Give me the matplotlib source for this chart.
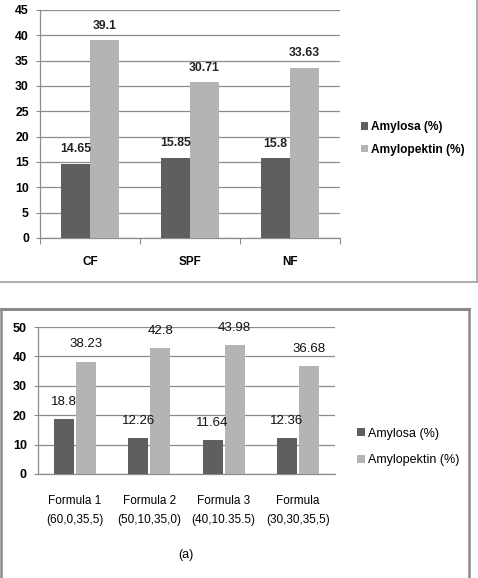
import matplotlib
matplotlib.use("Agg")
import matplotlib.pyplot as plt
from matplotlib.lines import Line2D
import numpy as np

plt.rcParams['font.family'] = ['Liberation Sans', 'DejaVu Sans']

# ---- data ----
top_categories = ["CF", "SPF", "NF"]
top_amylosa = [14.65, 15.85, 15.8]
top_amylopektin = [39.1, 30.71, 33.63]
top_yticks = [0, 5, 10, 15, 20, 25, 30, 35, 40, 45]

bot_categories = ["Formula 1\n(60,0,35,5)", "Formula 2\n(50,10,35,0)",
                  "Formula 3\n(40,10.35.5)", "Formula\n(30,30,35,5)"]
bot_amylosa = [18.8, 12.26, 11.64, 12.36]
bot_amylopektin = [38.23, 42.8, 43.98, 36.68]
bot_yticks = [0, 10, 20, 30, 40, 50]

series_names = ["Amylosa (%)", "Amylopektin (%)"]
dark = "#5f5f5f"
light = "#b4b4b4"
grid_c = "#8c8c8c"

W, H = 478, 578
fig = plt.figure(figsize=(W / 100, H / 100), dpi=100)

def fx(px):
    return px / W

def fy(py):
    return 1 - py / H

# ---------------- top chart ----------------
ax1 = fig.add_axes([fx(40), fy(238), fx(340) - fx(40), fy(10) - fy(238)])
x = np.arange(len(top_categories))
bw = 0.29
ax1.bar(x - bw / 2, top_amylosa, bw, color=dark, label=series_names[0], zorder=3)
ax1.bar(x + bw / 2, top_amylopektin, bw, color=light, label=series_names[1], zorder=3)
for xi, v in zip(x - bw / 2, top_amylosa):
    ax1.annotate(f"{v:g}", (xi, v), xytext=(0, 6), textcoords="offset points",
                 ha="center", va="bottom", fontsize=8.8, fontweight="bold", color="#222222")
for xi, v in zip(x + bw / 2, top_amylopektin):
    ax1.annotate(f"{v:g}", (xi, v), xytext=(0, 6), textcoords="offset points",
                 ha="center", va="bottom", fontsize=8.8, fontweight="bold", color="#222222")
ax1.set_xlim(-0.5, len(top_categories) - 0.5)
ax1.set_ylim(0, 45)
ax1.set_yticks(top_yticks)
ax1.yaxis.grid(True, color=grid_c, lw=0.9, zorder=0)
ax1.set_axisbelow(True)
ax1.set_xticks(x)
ax1.set_xticklabels(top_categories, fontsize=8.5, fontweight="bold")
ax1.set_xticks(np.arange(-0.5, len(top_categories)), minor=True)
ax1.tick_params(axis="x", which="major", length=0, pad=13)
ax1.tick_params(axis="x", which="minor", length=4, color=grid_c, width=0.8)
ax1.tick_params(axis="y", length=3, color=grid_c, width=0.8, pad=5)
for lab in ax1.get_yticklabels():
    lab.set_fontsize(8.8)
    lab.set_fontweight("bold")
for s in ["top", "right"]:
    ax1.spines[s].set_visible(False)
ax1.spines["left"].set_color(grid_c)
ax1.spines["left"].set_linewidth(0.9)
ax1.spines["bottom"].set_color(grid_c)
ax1.spines["bottom"].set_linewidth(0.9)
ax1.legend(loc="center left", bbox_to_anchor=(fx(355), fy(138.5)),
           bbox_transform=fig.transFigure, frameon=False,
           handlelength=0.6, handleheight=0.6, handletextpad=0.25,
           labelspacing=0.85, borderpad=0, prop={"size": 8.6, "weight": "bold"})

# ---------------- bottom chart ----------------
ax2 = fig.add_axes([fx(38), fy(474), fx(335) - fx(38), fy(327) - fy(474)])
x2 = np.arange(len(bot_categories))
bw2 = 0.27
off = 0.148
ax2.bar(x2 - off, bot_amylosa, bw2, color=dark, label=series_names[0], zorder=3)
ax2.bar(x2 + off, bot_amylopektin, bw2, color=light, label=series_names[1], zorder=3)
for xi, v in zip(x2 - off, bot_amylosa):
    ax2.annotate(f"{v:g}", (xi, v), xytext=(0, 8), textcoords="offset points",
                 ha="center", va="bottom", fontsize=9.5, color="#111111")
for xi, v in zip(x2 + off, bot_amylopektin):
    ax2.annotate(f"{v:g}", (xi, v), xytext=(0, 8), textcoords="offset points",
                 ha="center", va="bottom", fontsize=9.5, color="#111111")
ax2.set_xlim(-0.5, len(bot_categories) - 0.5)
ax2.set_ylim(0, 50)
ax2.set_yticks(bot_yticks)
ax2.yaxis.grid(True, color=grid_c, lw=0.9, zorder=0)
ax2.set_axisbelow(True)
ax2.set_xticks(x2)
ax2.set_xticklabels(bot_categories, fontsize=8.5, linespacing=1.75)
ax2.tick_params(axis="x", length=0, pad=15)
ax2.tick_params(axis="y", length=3, color=grid_c, width=0.8, pad=5)
for lab in ax2.get_yticklabels():
    lab.set_fontsize(9)
    lab.set_fontweight("bold")
for s in ["top", "right"]:
    ax2.spines[s].set_visible(False)
ax2.spines["left"].set_color(grid_c)
ax2.spines["left"].set_linewidth(0.9)
ax2.spines["bottom"].set_color(grid_c)
ax2.spines["bottom"].set_linewidth(0.9)
ax2.legend(loc="center left", bbox_to_anchor=(fx(351), fy(447)),
           bbox_transform=fig.transFigure, frameon=False,
           handlelength=0.6, handleheight=0.6, handletextpad=0.25,
           labelspacing=1.2, borderpad=0, prop={"size": 9})

fig.text(fx(186), fy(555), "(a)", ha="center", va="center", fontsize=9)

# ---------------- frames ----------------
fc = "#a0a0a0"
fig.add_artist(Line2D([0, fx(477)], [fy(282), fy(282)], color=fc, lw=1.2, transform=fig.transFigure))
fig.add_artist(Line2D([fx(477), fx(477)], [fy(282), 1], color=fc, lw=1.2, transform=fig.transFigure))
fc2 = "#8a8a8a"
fig.add_artist(Line2D([fx(0.8), fx(469)], [fy(309), fy(309)], color=fc2, lw=2.2, transform=fig.transFigure))
fig.add_artist(Line2D([fx(469), fx(469)], [fy(309), 0], color=fc2, lw=1.8, transform=fig.transFigure))
fig.add_artist(Line2D([fx(0.8), fx(0.8)], [fy(309), 0], color=fc2, lw=1.8, transform=fig.transFigure))

fig.savefig("out.png", dpi=100)
